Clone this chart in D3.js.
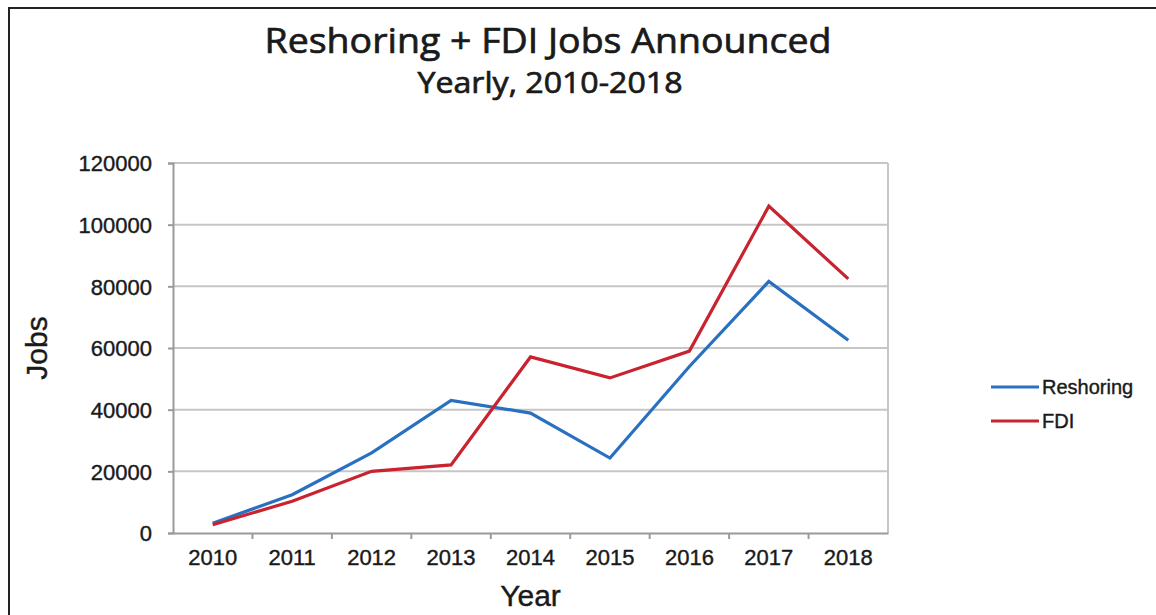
<!DOCTYPE html>
<html>
<head>
<meta charset="utf-8">
<title>Reshoring + FDI Jobs Announced</title>
<script src="https://cdn.jsdelivr.net/npm/d3@7/dist/d3.min.js"></script>
<style>
  body { margin: 0; background: #fff; }
  text { font-family: "Liberation Sans", Arial, sans-serif; fill: #1a1a1a; stroke: #1a1a1a; stroke-width: 0.4px; }
  .title { font-family: "Open Sans", sans-serif; font-weight: 400; stroke-width: 0.7px; }
  .grid line { stroke: #c6c6c6; stroke-width: 2; }
  .axis path, .axis line { stroke: #9a9a9a; stroke-width: 2; }
</style>
</head>
<body>
<div id="chart"></div>
<script>
// data
const years = ["2010", "2011", "2012", "2013", "2014", "2015", "2016", "2017", "2018"];
const reshoring = [3200, 12400, 26000, 43000, 38900, 24300, 54000, 81600, 62500];
const fdi = [2700, 10300, 20000, 22100, 57100, 50300, 59000, 106000, 82400];
const seriesNames = ["Reshoring", "FDI"];
const seriesColors = ["#2a70c0", "#c8232f"];
const yTicks = [0, 20000, 40000, 60000, 80000, 100000, 120000];

const width = 1156, height = 615;
const margin = {top: 163, left: 173, right: 268, bottom: 82};
const chartW = width - margin.left - margin.right;
const chartH = height - margin.top - margin.bottom;

const svg = d3.select("#chart").append("svg")
    .attr("width", width)
    .attr("height", height);

// outer frame
svg.append("rect")
    .attr("x", 9).attr("y", 8)
    .attr("width", width + 20).attr("height", height + 20)
    .attr("fill", "none")
    .attr("stroke", "#222")
    .attr("stroke-width", 2);

const x = d3.scaleBand().domain(years).range([0, chartW]).padding(0);
const y = d3.scaleLinear().domain([0, 120000]).range([chartH, 0]);

const g = svg.append("g")
    .attr("transform", `translate(${margin.left},${margin.top})`);

// gridlines
g.append("g").attr("class", "grid")
  .selectAll("line")
  .data(yTicks.slice(1))
  .join("line")
    .attr("x1", 0).attr("x2", chartW)
    .attr("y1", d => y(d)).attr("y2", d => y(d));

// right border of plot area
g.append("line")
    .attr("x1", chartW).attr("x2", chartW)
    .attr("y1", 0).attr("y2", chartH)
    .attr("stroke", "#c6c6c6").attr("stroke-width", 2);

// y axis
const yAxis = g.append("g").attr("class", "axis")
    .call(d3.axisLeft(y).tickValues(yTicks).tickSize(5).tickPadding(16).tickFormat(d3.format("d")));
yAxis.selectAll("text")
    .style("font-size", "22px")
    .attr("dy", "0.35em");

// x axis: labels centred in bands, tick marks on band edges
const xAxis = g.append("g").attr("class", "axis")
    .attr("transform", `translate(0,${chartH})`)
    .call(d3.axisBottom(x).tickSize(0).tickPadding(16));
xAxis.selectAll("text")
    .style("font-size", "22px");
xAxis.selectAll(".edge")
  .data(years.slice(1))
  .join("line")
    .attr("class", "edge")
    .attr("x1", d => x(d)).attr("x2", d => x(d))
    .attr("y1", 0).attr("y2", 6);

// lines
const line = d3.line()
    .x((d, i) => x(years[i]) + x.bandwidth() / 2)
    .y(d => y(d));

[reshoring, fdi].forEach((vals, k) => {
  g.append("path")
    .datum(vals)
    .attr("fill", "none")
    .attr("stroke", seriesColors[k])
    .attr("stroke-width", 3.2)
    .attr("stroke-linejoin", "miter")
    .attr("d", line);
});

// titles
svg.append("text")
    .attr("class", "title")
    .attr("x", 548).attr("y", 53)
    .attr("text-anchor", "middle")
    .attr("textLength", 567)
    .attr("lengthAdjust", "spacingAndGlyphs")
    .style("font-size", "35px")
    .text("Reshoring + FDI Jobs Announced");

svg.append("text")
    .attr("class", "title")
    .attr("x", 550).attr("y", 93)
    .attr("text-anchor", "middle")
    .attr("textLength", 265)
    .attr("lengthAdjust", "spacingAndGlyphs")
    .style("font-size", "29px")
    .text("Yearly, 2010-2018");

// axis titles
svg.append("text")
    .attr("x", margin.left + chartW / 2).attr("y", 606)
    .attr("text-anchor", "middle")
    .style("font-size", "30px")
    .text("Year");

svg.append("text")
    .attr("transform", `translate(36,${margin.top + chartH / 2}) rotate(-90)`)
    .attr("text-anchor", "middle")
    .attr("dy", "0.35em")
    .style("font-size", "30px")
    .text("Jobs");

// legend
const legend = svg.append("g")
    .selectAll("g")
    .data(seriesNames)
    .join("g")
    .attr("transform", (d, i) => `translate(991,${387 + i * 34})`);
legend.append("line")
    .attr("x1", 0).attr("x2", 48)
    .attr("stroke", (d, i) => seriesColors[i])
    .attr("stroke-width", 3);
legend.append("text")
    .attr("x", 51)
    .attr("dy", "0.35em")
    .style("font-size", "20px")
    .text(d => d);
</script>
</body>
</html>
